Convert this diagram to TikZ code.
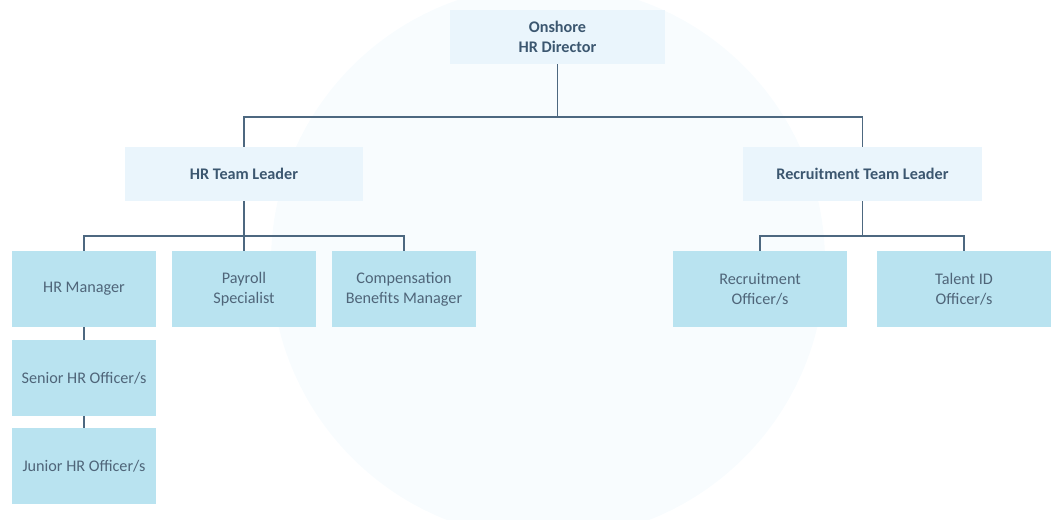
\documentclass[tikz,border=0pt]{standalone}
\usepackage{fontspec}
\setmainfont{Carlito}
\usetikzlibrary{positioning}

\definecolor{linecol}{HTML}{4D6880}
\definecolor{headfill}{HTML}{EAF5FC}
\definecolor{boxfill}{HTML}{B9E3F0}
\definecolor{headtext}{HTML}{3C5770}
\definecolor{boxtext}{HTML}{4F6579}
\definecolor{bgcircle}{HTML}{F8FCFE}

\tikzset{
    head/.style={fill=headfill, text=headtext, font=\fontsize{16.2}{20}\selectfont\bfseries,
        align=center, inner sep=0pt, minimum height=54pt},
    role/.style={fill=boxfill, text=boxtext, font=\fontsize{16.2}{20}\selectfont,
        align=center, inner sep=0pt, minimum width=144pt, minimum height=76pt},
    link/.style={draw=linecol, line width=1.6pt}
}

\begin{document}
\begin{tikzpicture}[x=1pt,y=-1pt]
        \useasboundingbox (0,0) rectangle (1062,519);
        \clip (0,0) rectangle (1062,519);
        \fill[bgcircle] (548,262) circle (277pt);

        % top level
        \node[head, minimum width=215pt] (dir) at (557.5,37) {Onshore\\HR Director};
        \node[head, minimum width=238pt] (hrtl) at (244,174) {HR Team Leader};
        \node[head, minimum width=239pt] (rtl) at (862.5,174) {Recruitment Team Leader};

        % HR side
        \node[role] (hrm)  at (84,289)  {HR Manager};
        \node[role] (pay)  at (244,289) {Payroll\\Specialist};
        \node[role] (comp) at (404,289) {Compensation\\Benefits Manager};
        \node[role] (sen)  at (84,378)  {Senior HR Officer/s};
        \node[role] (jun)  at (84,466)  {Junior HR Officer/s};

        % recruitment side
        \node[role, minimum width=174pt] (rec) at (760,289) {Recruitment\\Officer/s};
        \node[role, minimum width=174pt] (tal) at (964,289) {Talent ID\\Officer/s};

        \coordinate (j1) at (557.5,117);
        \coordinate (j2) at (244,236);
        \coordinate (j3) at (862.5,236);

        \draw[link] (dir.south) -- (j1);
        \draw[link] (hrtl.north) |- (j1) -| (rtl.north);
        \draw[link] (hrtl.south) -- (pay.north);
        \draw[link] (hrm.north) |- (j2) -| (comp.north);
        \draw[link] (rtl.south) -- (j3);
        \draw[link] (rec.north) |- (j3) -| (tal.north);
        \draw[link] (hrm.south) -- (sen.north);
        \draw[link] (sen.south) -- (jun.north);
\end{tikzpicture}
\end{document}
